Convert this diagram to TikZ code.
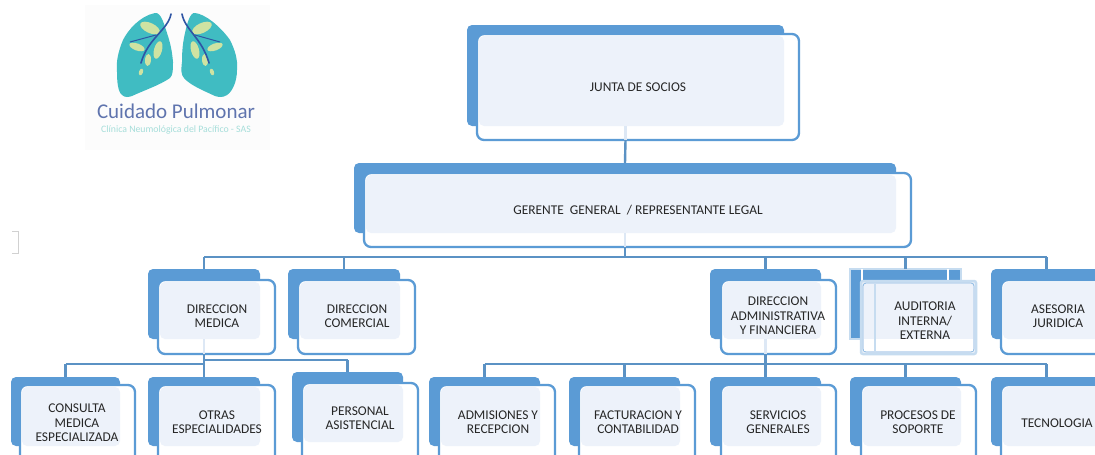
\documentclass[tikz,border=0pt]{standalone}
\usepackage{fontspec}
\setmainfont{Carlito}
\definecolor{backblue}{HTML}{5B9BD5}
\definecolor{lightfill}{HTML}{EDF2FA}
\definecolor{palefill}{HTML}{DDE8F5}
\definecolor{linkblue}{HTML}{5B92C4}
\definecolor{lungteal}{HTML}{40BCC2}
\definecolor{leafgreen}{HTML}{CFE3A2}
\definecolor{veinblue}{HTML}{2F55A4}
\definecolor{logotext}{HTML}{5F74AE}
\definecolor{logosub}{HTML}{A6DEDA}
\definecolor{softborder}{HTML}{C6DCF0}
\tikzset{
  x=1pt,y=-1pt,
  backbox/.style={draw=none,fill=backblue,rounded corners=5pt,inner sep=0pt,outer sep=0pt},
  frontbox/.style={draw=backblue,line width=2.3pt,fill=white,rounded corners=7pt,inner sep=0pt,outer sep=0pt},
  label/.style={font=\fontsize{13.4}{14.6}\selectfont,text=black!85,align=center,inner sep=0pt},
  conn/.style={draw=linkblue,line width=2.4pt},
  paleconn/.style={draw=palefill,line width=2.6pt},
}
% id, back x0 y0 x1 y1, front x0 y0 x1 y1
\newcommand{\orgbox}[9]{%
  \node[backbox,minimum width=#4-#2,minimum height=#5-#3,anchor=north west] (#1b) at (#2,#3) {};
  \node[frontbox,minimum width=#8-#6,minimum height=#9-#7,anchor=north west] (#1f) at (#6,#7) {};
  \fill[lightfill,rounded corners=5pt] (#6+2,#7+2) rectangle (#4,#5);
}
\newcommand{\trunk}[1]{\draw[paleconn] (#1b.south) -- (#1b.south |- #1f.south);}
\begin{document}
\begin{tikzpicture}
\clip (0,0) rectangle (1095,455);
\fill[white] (0,0) rectangle (1095,455);

% logo
\fill[black!1] (85,5) rectangle (270,150);
\begin{scope}[shift={(80,0)}]
\fill[lungteal] (75,13) .. controls (60,16) and (48,30) .. (43,40) .. controls (38,52) and (36,62) .. (37,72) .. controls (37,82) and (38,92) .. (42,95) .. controls (45,98) and (49,97) .. (52,96) .. controls (65,90) and (80,85) .. (90,78) .. controls (93,75) and (93,70) .. (93,62) .. controls (92,50) and (90,42) .. (87,33) .. controls (84,24) and (81,12) .. (75,13) -- cycle;
\fill[lungteal] (115,13) .. controls (125,14) and (140,26) .. (150,40) .. controls (155,50) and (158,60) .. (157,70) .. controls (157,82) and (152,92) .. (147,95) .. controls (143,98) and (138,97) .. (135,96) .. controls (122,90) and (110,85) .. (104,78) .. controls (101,75) and (101,70) .. (102,62) .. controls (102,50) and (103,42) .. (105,33) .. controls (107,24) and (110,12) .. (115,13) -- cycle;
\foreach \lx/\ly/\rot/\a/\b in {70/28/-25/10.5/5, 57/47/-20/8/3.5, 78/50/75/9/4, 68/60/85/6/3, 61/72/70/3.5/2, 122/28/25/10.5/5, 135/47/20/8/3.5, 115/50/105/9/4, 125/60/95/6/3, 132/72/110/3.5/2}
  \fill[leafgreen,rotate around={\rot:(\lx,\ly)}] (\lx,\ly) ellipse [x radius=\a,y radius=\b];
\draw[veinblue,line width=1.6pt,line cap=round] (91,14) .. controls (88,30) and (68,38) .. (61,63);
\draw[veinblue,line width=1pt] (76,35) -- (50,42);
\draw[veinblue,line width=1.6pt,line cap=round] (102,14) .. controls (105,30) and (122,38) .. (129,63);
\draw[veinblue,line width=1pt] (115,35) -- (140,42);
\end{scope}
\node[font=\fontsize{21}{21}\selectfont,text=logotext,inner sep=0pt] (logoname) at (176,111.5) {Cuidado Pulmonar};
\node[font=\fontsize{9.8}{10}\selectfont,text=logosub,inner sep=0pt] (logosubt) at (176,130) {Clínica Neumológica del Pacífico - SAS};

% faint bracket
\draw[black!18,line width=1pt] (12,231) -- (18,231) -- (18,253) -- (12,253);

% boxes
\orgbox{j}{467}{25}{784}{126}{477}{34}{799}{140}
\orgbox{g}{354}{163}{896}{233}{364}{173}{911}{247}
\orgbox{m}{148}{269}{260}{339}{158}{280}{275}{354}
\orgbox{c}{288}{269}{400}{339}{298}{280}{415}{354}
\orgbox{d}{710}{269}{821}{339}{721}{280}{836}{354}
\orgbox{s}{991}{269}{1102}{339}{1001}{280}{1117}{354}
% auditoria (washed-out box)
\node[backbox,rounded corners=0pt,draw=softborder,line width=1.5pt,minimum width=111,minimum height=70,anchor=north west] (ab) at (850,269) {};
\draw[white,line width=2pt] (862,269) -- (862,339);
\draw[white,line width=2pt] (948,269) -- (948,339);
\node[frontbox,rounded corners=2pt,draw=softborder,line width=2.5pt,fill=lightfill,minimum width=115,minimum height=73,anchor=north west] (af) at (861,281) {};
\draw[backblue!70,line width=.8pt,rounded corners=3pt] (863,283) rectangle (974,352);
\fill[white] (864,339) rectangle (973,351.3);
\draw[softborder,line width=1.2pt] (875,284) -- (875,351);
\orgbox{a1}{11}{377}{120}{446}{20}{385}{135}{470}
\orgbox{o}{148}{377}{260}{446}{158}{385}{275}{470}
\orgbox{p}{292}{372}{403}{442}{302}{383}{418}{470}
\orgbox{r}{429}{377}{540}{446}{439}{385}{555}{470}
\orgbox{f}{569}{377}{680}{446}{579}{385}{695}{470}
\orgbox{v}{710}{377}{821}{446}{721}{385}{836}{470}
\orgbox{q}{850}{377}{961}{446}{861}{385}{976}{470}
\orgbox{t}{991}{377}{1102}{446}{1001}{385}{1117}{470}

% connectors
\coordinate (bustop) at (625,257);
\coordinate (busl) at (205,364);
\coordinate (busm) at (205,360);
\coordinate (busr) at (765,364);
\trunk{j}\trunk{g}\trunk{m}\trunk{d}
\draw[conn] (jb.south |- jf.south) -- (gb.north);
\draw[conn] (gb.south |- gf.south) -- (gb.south |- bustop);
\draw[conn] (bustop -| mb.north) -- (bustop -| sb.north);
\foreach \n in {m,c,d,a,s}
  \draw[conn] (bustop -| \n b.north) -- (\n b.north);
\draw[conn] (mb.south |- mf.south) -- (mb.south |- ob.north);
\draw[conn] (busl -| a1b.north) -- (busl);
\draw[conn] (busm) -- (busm -| pb.north);
\draw[conn] (busl -| a1b.north) -- (a1b.north);
\draw[conn] (busm -| pb.north) -- (pb.north);
\draw[conn] (db.south |- df.south) -- (db.south |- vb.north);
\draw[conn] (busr -| rb.north) -- (busr -| tb.north);
\foreach \n in {r,f,q,t}
  \draw[conn] (busr -| \n b.north) -- (\n b.north);

% labels
\node[label] (tj) at (638,87) {JUNTA DE SOCIOS};
\node[label] (tg) at (638,210) {GERENTE~ GENERAL~ / REPRESENTANTE LEGAL};
\node[label] (tm) at (217,316) {DIRECCION\\MEDICA};
\node[label] (tc) at (357,316) {DIRECCION\\COMERCIAL};
\node[label] (td) at (778,316) {DIRECCION\\ADMINISTRATIVA\\Y FINANCIERA};
\node[label] (ta) at (925,321) {AUDITORIA\\INTERNA/\\EXTERNA};
\node[label] (ts) at (1058,316) {ASESORIA\\JURIDICA};
\node[label] (ta1) at (77,423) {CONSULTA\\MEDICA\\ESPECIALIZADA};
\node[label] (to) at (217,422) {OTRAS\\ESPECIALIDADES};
\node[label] (tp) at (360,418) {PERSONAL\\ASISTENCIAL};
\node[label] (tr) at (498,422) {ADMISIONES Y\\RECEPCION};
\node[label] (tf) at (638,422) {FACTURACION Y\\CONTABILIDAD};
\node[label] (tv) at (778,422) {SERVICIOS\\GENERALES};
\node[label] (tq) at (918,422) {PROCESOS DE\\SOPORTE};
\node[label] (tt) at (1057,423) {TECNOLOGIA};
\end{tikzpicture}
\end{document}
